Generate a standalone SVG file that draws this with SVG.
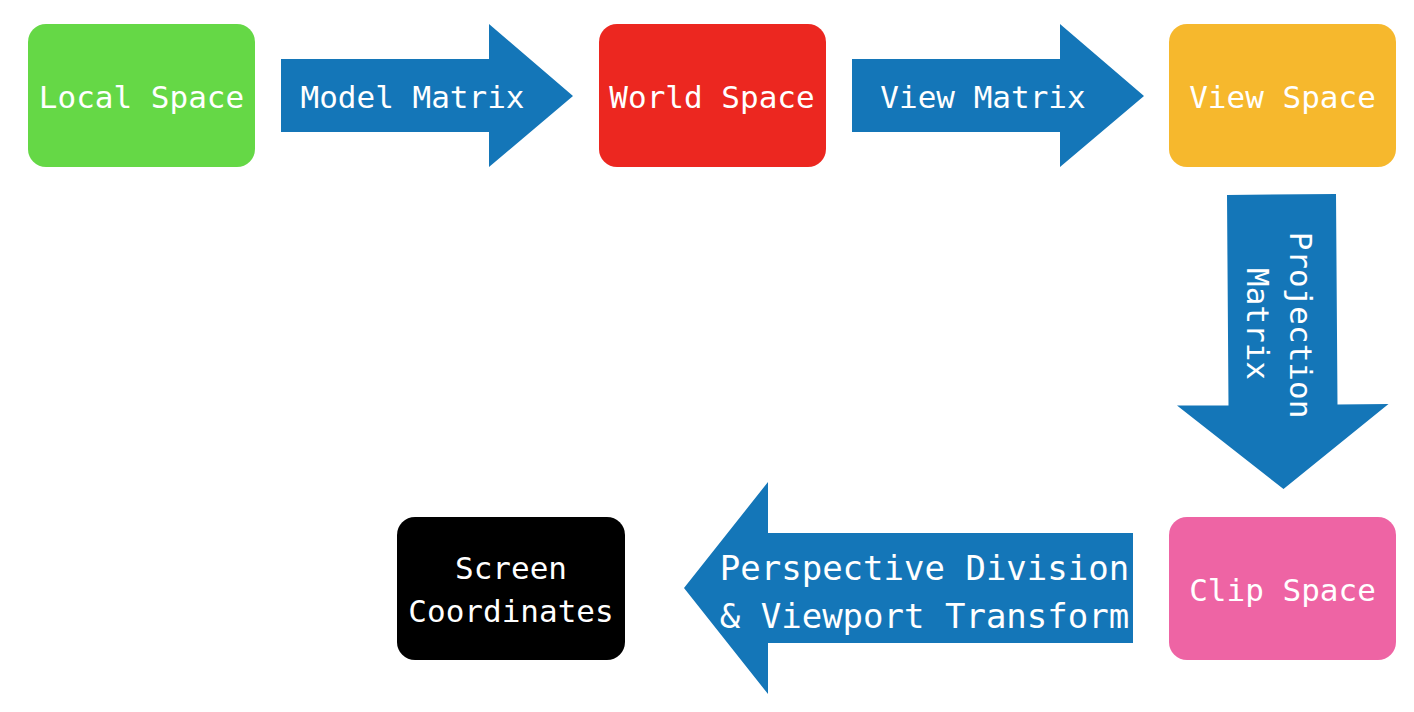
<svg xmlns="http://www.w3.org/2000/svg" width="1414" height="712" viewBox="0 0 1414 712">
<style>
.box{stroke:none}
.lbl{font-family:"DejaVu Sans Mono",monospace;font-size:31px;fill:#ffffff;text-anchor:middle}
.big{font-size:34px}
.arrow{fill:#1476B8;stroke:none}
</style>
<rect width="1414" height="712" fill="#ffffff"/>
<g id="connectors">
  <g id="model-matrix">
    <polygon class="arrow" points="281,59 489,59 489,24 573,96 489,167 489,132 281,132"/>
    <text class="lbl" x="412.5" y="108">Model Matrix</text>
  </g>
  <g id="view-matrix">
    <polygon class="arrow" points="852,59 1060,59 1060,24 1144,96 1060,167 1060,132 852,132"/>
    <text class="lbl" x="983" y="108">View Matrix</text>
  </g>
  <g id="projection-matrix">
    <polygon class="arrow" points="1227,195 1336,194 1337.5,404.5 1388.5,404 1283.5,489 1177,405.5 1228.5,405.5"/>
    <text class="lbl" transform="translate(1290,325) rotate(90)">Projection</text>
    <text class="lbl" transform="translate(1247,324) rotate(90)">Matrix</text>
  </g>
  <g id="perspective-division">
    <polygon class="arrow" points="1133,533 768,533 768,482 684,588 768,694 768,643 1133,643"/>
    <text class="lbl big" x="924.5" y="579.5">Perspective Division</text>
    <text class="lbl big" x="924.5" y="628">&amp; Viewport Transform</text>
  </g>
</g>
<g id="local-space">
  <rect class="box" x="28" y="24" width="227" height="143" rx="18" fill="#65D846"/>
  <text class="lbl" x="141.5" y="107.5">Local Space</text>
</g>
<g id="world-space">
  <rect class="box" x="599" y="24" width="227" height="143" rx="18" fill="#EC2720"/>
  <text class="lbl" x="712" y="107.5">World Space</text>
</g>
<g id="view-space">
  <rect class="box" x="1169" y="24" width="227" height="143" rx="18" fill="#F6B82D"/>
  <text class="lbl" x="1282.5" y="107.5">View Space</text>
</g>
<g id="clip-space">
  <rect class="box" x="1169" y="517" width="227" height="143" rx="18" fill="#EE64A4"/>
  <text class="lbl" x="1282.5" y="600.5">Clip Space</text>
</g>
<g id="screen-coordinates">
  <rect class="box" x="397" y="517" width="228" height="143" rx="18" fill="#000000"/>
  <text class="lbl" x="511" y="579">Screen</text>
  <text class="lbl" x="511" y="622">Coordinates</text>
</g>
</svg>
